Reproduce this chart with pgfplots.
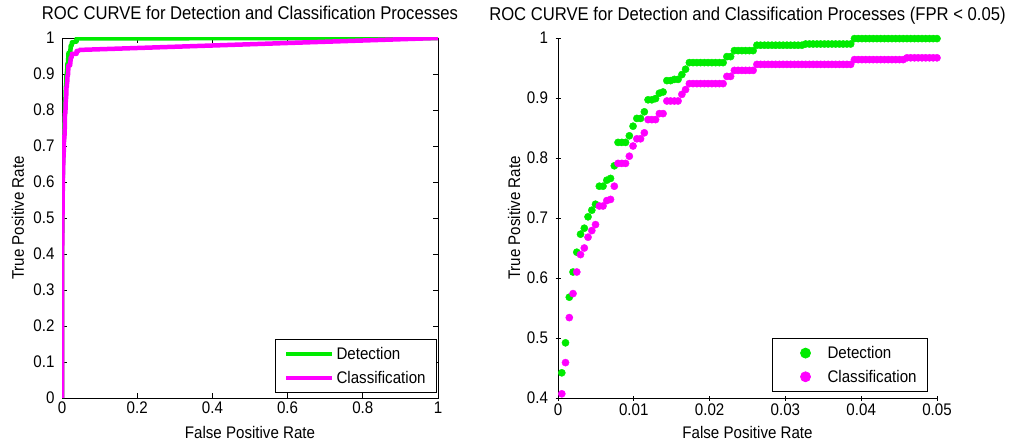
\documentclass[border=0pt]{standalone}
\usepackage{fontspec}
\setmainfont{Liberation Sans}[FakeStretch=0.9]
\usepackage{pgfplots}
\usepackage{pgfplotstable}
\pgfplotsset{compat=1.18}

\definecolor{detgreen}{RGB}{0,235,0}
\definecolor{clsmag}{RGB}{255,0,255}

% fpr, detection tpr, classification tpr
\pgfplotstableread{
fpr det cls
0 0 0
0.00050 0.442 0.407
0.00099 0.492 0.459
0.00149 0.568 0.534
0.00198 0.610 0.574
0.00248 0.643 0.610
0.00297 0.673 0.639
0.00347 0.683 0.650
0.00396 0.702 0.668
0.00446 0.713 0.679
0.00495 0.723 0.689
0.00545 0.753 0.720
0.00594 0.753 0.720
0.00644 0.763 0.729
0.00693 0.766 0.731
0.00743 0.787 0.753
0.00792 0.826 0.791
0.00842 0.826 0.791
0.00891 0.826 0.791
0.00941 0.837 0.803
0.00990 0.853 0.820
0.01040 0.866 0.832
0.01089 0.866 0.832
0.01139 0.877 0.842
0.01188 0.897 0.864
0.01238 0.897 0.864
0.01287 0.899 0.864
0.01337 0.908 0.874
0.01386 0.910 0.874
0.01436 0.929 0.895
0.01485 0.929 0.895
0.01535 0.931 0.895
0.01584 0.931 0.895
0.01634 0.939 0.906
0.01683 0.948 0.914
0.01733 0.959 0.924
0.01782 0.959 0.924
0.01832 0.959 0.924
0.01881 0.959 0.924
0.01931 0.959 0.924
0.01980 0.959 0.924
0.02030 0.959 0.924
0.02079 0.959 0.924
0.02129 0.959 0.924
0.02178 0.959 0.924
0.02228 0.969 0.936
0.02277 0.969 0.936
0.02327 0.979 0.946
0.02376 0.979 0.946
0.02426 0.979 0.946
0.02475 0.979 0.946
0.02525 0.979 0.946
0.02574 0.979 0.946
0.02624 0.988 0.956
0.02673 0.988 0.956
0.02723 0.988 0.956
0.02772 0.988 0.956
0.02822 0.988 0.956
0.02871 0.988 0.956
0.02921 0.988 0.956
0.02970 0.988 0.956
0.03020 0.988 0.956
0.03069 0.988 0.956
0.03119 0.988 0.956
0.03168 0.988 0.956
0.03218 0.988 0.956
0.03267 0.990 0.956
0.03317 0.990 0.956
0.03366 0.990 0.956
0.03416 0.990 0.956
0.03465 0.990 0.956
0.03515 0.990 0.956
0.03564 0.990 0.956
0.03614 0.990 0.956
0.03663 0.990 0.956
0.03713 0.990 0.956
0.03762 0.990 0.956
0.03812 0.990 0.956
0.03861 0.990 0.956
0.03911 0.999 0.964
0.03960 0.999 0.964
0.04010 0.999 0.964
0.04059 0.999 0.964
0.04109 0.999 0.964
0.04158 0.999 0.964
0.04208 0.999 0.964
0.04257 0.999 0.964
0.04307 0.999 0.964
0.04356 0.999 0.964
0.04406 0.999 0.964
0.04455 0.999 0.964
0.04505 0.999 0.964
0.04554 0.999 0.964
0.04604 0.999 0.967
0.04653 0.999 0.967
0.04703 0.999 0.967
0.04752 0.999 0.967
0.04802 0.999 0.967
0.04851 0.999 0.967
0.04901 0.999 0.967
0.04950 0.999 0.967
0.05000 0.999 0.967
1 1 1
}\roctab

\newcommand\lblfont{\fontsize{16.8}{20}\selectfont}

\pgfplotsset{
  rocbase/.style={
    scale only axis, height=360pt, anchor=south west,
    tick label style={font=\lblfont},
    yticklabel style={xshift=-4pt},
    /pgf/number format/assume math mode=true,
    /pgf/number format/fixed,
    /pgf/number format/precision=2,
    scaled ticks=false,
    tick style={black, line width=0.8pt},
    major tick length=5pt,
    axis line style={line width=0.8pt},
    title style={at={(0.5,1)}, anchor=base, yshift=12pt, font=\fontsize{18.5}{22}\selectfont},
    every axis x label/.style={at={(axis description cs:0.5,0)}, anchor=base, yshift=-40pt, font=\lblfont},
    every axis y label/.style={at={(axis description cs:0,0.5)}, rotate=90, anchor=base, yshift=38pt, font=\lblfont},
    legend cell align=left,
    legend style={draw=black, line width=0.8pt, font=\lblfont, anchor=south east,
      row sep=6pt, inner xsep=9pt, inner ysep=6pt},
  }
}

\begin{document}
\begin{tikzpicture}
\useasboundingbox (0,0) rectangle (1012pt,445pt);

\begin{axis}[rocbase, at={(62pt,47pt)}, width=376pt,
  xmin=0, xmax=1, ymin=0, ymax=1,
  xtick={0,0.2,0.4,0.6,0.8,1},
  ytick={0,0.1,0.2,0.3,0.4,0.5,0.6,0.7,0.8,0.9,1},
  title={ROC CURVE for Detection and Classification Processes},
  xlabel={False Positive Rate}, ylabel={True Positive Rate},
  legend style={at={(1,0)}, xshift=-1pt, yshift=5pt},
  legend image code/.code={\draw[#1, line width=4.5pt] (0pt,0pt) -- (46pt,0pt);},
]
\addplot[detgreen, line width=4.5pt, line join=round] table[x=fpr, y=det] {\roctab};
\addplot[clsmag, line width=4.5pt, line join=round] table[x=fpr, y=cls] {\roctab};
\legend{Detection, Classification}
\end{axis}

\begin{axis}[rocbase, at={(558pt,47pt)}, width=379pt,
  xmin=0, xmax=0.05, ymin=0.4, ymax=1,
  axis x line=bottom, axis y line=left, axis line style={-},
  clip=false, restrict x to domain=0.0004:0.0501,
  xtick={0,0.01,0.02,0.03,0.04,0.05},
  ytick={0.4,0.5,0.6,0.7,0.8,0.9,1},
  title={ROC CURVE for Detection and Classification Processes (FPR < 0.05)},
  xlabel={False Positive Rate}, ylabel={True Positive Rate},
  legend style={at={(1,0)}, xshift=-9pt, yshift=6pt},
  legend image code/.code={\path[draw=none] (0pt,0pt) (44pt,0pt);
    \path[#1, mark size=5pt] plot coordinates {(24pt,0pt)};},
]
\addplot[only marks, mark=*, mark size=3.6pt, detgreen] table[x=fpr, y=det] {\roctab};
\addplot[only marks, mark=*, mark size=3.6pt, clsmag] table[x=fpr, y=cls] {\roctab};
\legend{Detection, Classification}
\end{axis}
\end{tikzpicture}
\end{document}
